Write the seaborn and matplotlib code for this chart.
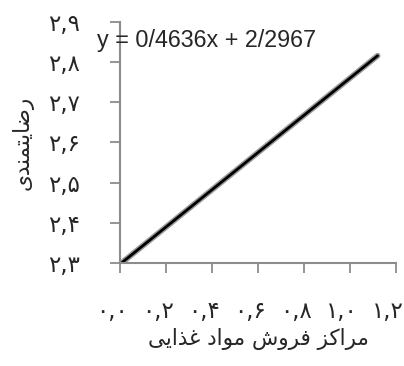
import matplotlib
matplotlib.use("Agg")
import matplotlib.pyplot as plt
import matplotlib.transforms as mtransforms
import seaborn as sns
import pandas as pd

# ---- data ----
x_vals = [0.0, 1.12]
y_vals = [2.297, 2.816]
x_ticks = [0.0, 0.2, 0.4, 0.6, 0.8, 1.0, 1.2]
y_ticks = [2.3, 2.4, 2.5, 2.6, 2.7, 2.8, 2.9]
x_label = "مراکز فروش مواد غذایی"
y_label = "رضایتمندی"
equation = "y = 0/4636x + 2/2967"

# ---- minimal Persian shaping (presentation forms, visual order) ----
DUAL = {
    "م": ("\uFEE1", "\uFEE2", "\uFEE3", "\uFEE4"),
    "ک": ("\uFB8E", "\uFB8F", "\uFB90", "\uFB91"),
    "ف": ("\uFED1", "\uFED2", "\uFED3", "\uFED4"),
    "ش": ("\uFEB5", "\uFEB6", "\uFEB7", "\uFEB8"),
    "غ": ("\uFECD", "\uFECE", "\uFECF", "\uFED0"),
    "ی": ("\uFBFC", "\uFBFD", "\uFBFE", "\uFBFF"),
    "ض": ("\uFEBD", "\uFEBE", "\uFEBF", "\uFEC0"),
    "ت": ("\uFE95", "\uFE96", "\uFE97", "\uFE98"),
    "ن": ("\uFEE5", "\uFEE6", "\uFEE7", "\uFEE8"),
}
RIGHT = {
    "ر": ("\uFEAD", "\uFEAE"),
    "ا": ("\uFE8D", "\uFE8E"),
    "ز": ("\uFEAF", "\uFEB0"),
    "و": ("\uFEED", "\uFEEE"),
    "د": ("\uFEA9", "\uFEAA"),
    "ذ": ("\uFEAB", "\uFEAC"),
}


def shape(text):
    out = []
    n = len(text)
    for i, ch in enumerate(text):
        prev = text[i - 1] if i > 0 else None
        nxt = text[i + 1] if i < n - 1 else None
        join_prev = prev in DUAL
        join_next = ch in DUAL and (nxt in DUAL or nxt in RIGHT)
        if ch in DUAL:
            iso, fin, ini, med = DUAL[ch]
            if join_prev and join_next:
                out.append(med)
            elif join_prev:
                out.append(fin)
            elif join_next:
                out.append(ini)
            else:
                out.append(iso)
        elif ch in RIGHT:
            iso, fin = RIGHT[ch]
            out.append(fin if join_prev else iso)
        else:
            out.append(ch)
    return "".join(out)[::-1]


FA_DIGITS = str.maketrans("0123456789", "۰۱۲۳۴۵۶۷۸۹")


def fa_num(v):
    return f"{v:.1f}".replace(".", ",").translate(FA_DIGITS)


# ---- plot ----
sns.set_theme(style="white")
plt.rcParams["font.family"] = ["DejaVu Sans"]

fig = plt.figure(figsize=(4.04, 3.66), dpi=100)
ax = fig.add_axes([120 / 404, 1 - 263 / 366, 276 / 404, 241 / 366])

df = pd.DataFrame({"x": x_vals, "y": y_vals})
sns.lineplot(data=df, x="x", y="y", ax=ax, color="#9a9a9a", linewidth=4.2)
sns.lineplot(data=df, x="x", y="y", ax=ax, color="black", linewidth=2.0)

ax.set_xlim(0, 1.2)
ax.set_ylim(2.3, 2.9)
ax.set_xticks(x_ticks)
ax.set_yticks(y_ticks)
ax.set_xticklabels([fa_num(v) for v in x_ticks], fontsize=16.5)
ax.set_yticklabels([fa_num(v) for v in y_ticks], fontsize=16.5)

for s in ["top", "right"]:
    ax.spines[s].set_visible(False)
for s in ["left", "bottom"]:
    ax.spines[s].set_color("#8c8c8c")
    ax.spines[s].set_linewidth(1.5)

ax.tick_params(axis="x", direction="out", length=7.5, width=1.3, color="#8c8c8c", pad=19, bottom=True)
ax.tick_params(axis="y", direction="out", length=7.5, width=1.3, color="#8c8c8c", pad=21, left=True)

# x tick labels sit slightly left of their ticks in the reference
shift = mtransforms.ScaledTranslation(-8 / 100, 0, fig.dpi_scale_trans)
for tk in ax.xaxis.get_major_ticks():
    tk.label1.set_transform(tk.label1.get_transform() + shift)

ax.set_xlabel(shape(x_label), fontsize=15.5, labelpad=4)
ax.set_ylabel(shape(y_label), fontsize=15.5, labelpad=11)

fig.text(97 / 404, 1 - 40 / 366, equation, fontsize=16.8, family="Liberation Sans",
         ha="left", va="center")

fig.savefig("out.png", dpi=100)
